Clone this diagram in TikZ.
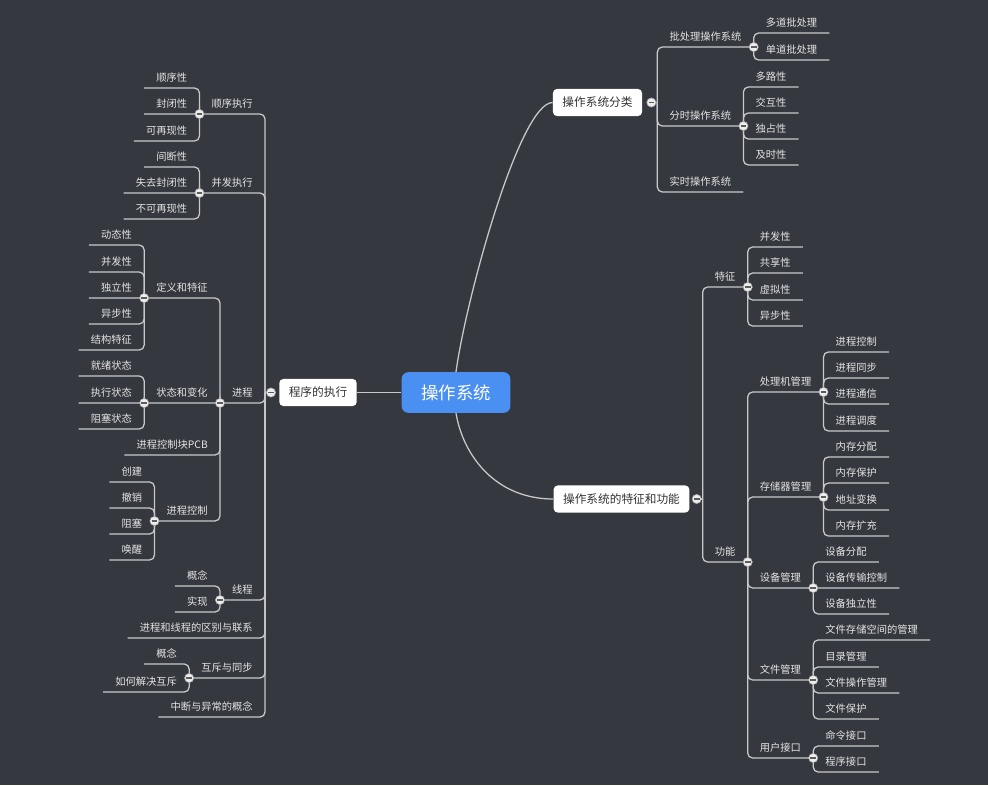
\documentclass[tikz,border=0pt]{standalone}
\usepackage{fontspec}
\setmainfont{Noto Sans CJK SC}

\definecolor{bgdark}{HTML}{36383F}
\definecolor{linegray}{HTML}{C9C9CC}
\definecolor{txtlight}{HTML}{E4E4E4}
\definecolor{rootblue}{HTML}{4A8FF2}
\definecolor{boxtxt}{HTML}{333333}
\definecolor{foldfill}{HTML}{EDEDED}

\newcommand\leaffont{\fontsize{7.3pt}{8.5pt}\selectfont}
\newcommand\topicfont{\fontsize{8.3pt}{10pt}\selectfont}
\newcommand\rootfont{\fontsize{12.4pt}{14pt}\selectfont}

\tikzset{
    branch/.style={draw=linegray, line width=0.9pt, rounded corners=3.5pt},
    rleaf/.style={anchor=south west, text=txtlight, font=\leaffont, inner xsep=8.5pt, inner ysep=2.8pt, text height=6.4pt, text depth=1.5pt},
    lleaf/.style={rleaf, anchor=south east},
    topic/.style={fill=white, rounded corners=3pt, text=boxtxt, font=\topicfont, inner xsep=6.8pt, minimum height=0.68cm},
    root/.style={fill=rootblue, rounded corners=5pt, text=white, font=\rootfont, minimum width=2.72cm, minimum height=1.02cm},
    fold/.style={circle, fill=foldfill, draw=gray!70, line width=0.4pt, minimum size=0.23cm, inner sep=0pt,
        path picture={\draw[boxtxt!80, line width=0.8pt] ([xshift=-2pt]path picture bounding box.center) -- ([xshift=2pt]path picture bounding box.center);}}
}

\begin{document}
\begin{tikzpicture}[x=0.025cm, y=-0.025cm]
    \fill[bgdark] (0,0) rectangle (988,785);
    \useasboundingbox (0,0) rectangle (988,785);

    % centre and main topics
    \node[root] (os) at (456,392.5) {操作系统};
    \node[topic] (cls) at (597.5,102.5) {操作系统分类};
    \node[topic] (feat) at (621.5,499) {操作系统的特征和功能};
    \node[topic] (exe) at (318,392.5) {程序的执行};

    \draw[branch] (os.north) .. controls +(10,-73) and +(-33,0) .. (cls.west);
    \draw[branch] (os.south) .. controls +(7,42) and +(-58,0) .. (feat.west);
    \draw[branch] (os.west) -- (exe.east);

    % 操作系统分类
    \path (cls.east) ++(9,0) coordinate (k0) ++(6,0) coordinate (v0);
    \draw[branch] (k0) -- (v0);
    \foreach \t/\y [count=\i] in {批处理操作系统/47, 分时操作系统/126, 实时操作系统/192} {
        \node[rleaf] (a\i) at (v0 |- 0,\y) {\t};
        \draw[branch] (v0) |- (a\i.south east);
        \coordinate (ka\i) at (a\i.south east);
    }
    \foreach \t/\y [count=\i] in {多道批处理/33, 单道批处理/60} {
        \node[rleaf] (aa\i) at (ka1 |- 0,\y) {\t};
        \draw[branch] (ka1) |- (aa\i.south east);
    }
    \foreach \t/\y [count=\i] in {多路性/87, 交互性/113, 独占性/139, 及时性/165} {
        \node[rleaf] (ab\i) at (ka2 |- 0,\y) {\t};
        \draw[branch] (ka2) |- (ab\i.south east);
    }

    % 操作系统的特征和功能
    \path (feat.east) ++(7,0) coordinate (kf) ++(6,0) coordinate (vf);
    \draw[branch] (kf) -- (vf);
    \foreach \t/\y [count=\i] in {特征/287, 功能/562} {
        \node[rleaf] (b\i) at (vf |- 0,\y) {\t};
        \draw[branch] (vf) |- (b\i.south east);
        \coordinate (kb\i) at (b\i.south east);
    }
    \foreach \t/\y [count=\i] in {并发性/247, 共享性/273, 虚拟性/300, 异步性/326} {
        \node[rleaf] (ba\i) at (kb1 |- 0,\y) {\t};
        \draw[branch] (kb1) |- (ba\i.south east);
    }
    \foreach \t/\y [count=\i] in {处理机管理/392, 存储器管理/497, 设备管理/588, 文件管理/680, 用户接口/758} {
        \node[rleaf] (c\i) at (kb2 |- 0,\y) {\t};
        \draw[branch] (kb2) |- (c\i.south east);
        \coordinate (kc\i) at (c\i.south east);
    }
    \foreach \t/\y [count=\i] in {进程控制/352, 进程同步/378, 进程通信/404, 进程调度/431} {
        \node[rleaf] (ca\i) at (kc1 |- 0,\y) {\t};
        \draw[branch] (kc1) |- (ca\i.south east);
    }
    \foreach \t/\y [count=\i] in {内存分配/457, 内存保护/483, 地址变换/510, 内存扩充/536} {
        \node[rleaf] (cb\i) at (kc2 |- 0,\y) {\t};
        \draw[branch] (kc2) |- (cb\i.south east);
    }
    \foreach \t/\y [count=\i] in {设备分配/562, 设备传输控制/588, 设备独立性/614} {
        \node[rleaf] (cc\i) at (kc3 |- 0,\y) {\t};
        \draw[branch] (kc3) |- (cc\i.south east);
    }
    \foreach \t/\y [count=\i] in {文件存储空间的管理/640, 目录管理/667, 文件操作管理/693, 文件保护/719} {
        \node[rleaf] (cd\i) at (kc4 |- 0,\y) {\t};
        \draw[branch] (kc4) |- (cd\i.south east);
    }
    \foreach \t/\y [count=\i] in {命令接口/746, 程序接口/772} {
        \node[rleaf] (ce\i) at (kc5 |- 0,\y) {\t};
        \draw[branch] (kc5) |- (ce\i.south east);
    }

    % 程序的执行
    \path (exe.west) ++(-8,0) coordinate (ke) ++(-6,0) coordinate (ve);
    \draw[branch] (ke) -- (ve);
    \foreach \t/\y [count=\i] in {顺序执行/114, 并发执行/193, 进程/403, 线程/600, 进程和线程的区别与联系/638, 互斥与同步/678, 中断与异常的概念/717} {
        \node[lleaf] (d\i) at (ve |- 0,\y) {\t};
        \draw[branch] (ve) |- (d\i.south west);
        \coordinate (kd\i) at (d\i.south west);
    }
    \foreach \t/\y [count=\i] in {顺序性/88, 封闭性/114, 可再现性/141} {
        \node[lleaf] (da\i) at (kd1 |- 0,\y) {\t};
        \draw[branch] (kd1) |- (da\i.south west);
    }
    \foreach \t/\y [count=\i] in {间断性/167, 失去封闭性/193, 不可再现性/219} {
        \node[lleaf] (db\i) at (kd2 |- 0,\y) {\t};
        \draw[branch] (kd2) |- (db\i.south west);
    }
    \foreach \t/\y [count=\i] in {定义和特征/298, 状态和变化/403, 进程控制块PCB/455, 进程控制/521} {
        \node[lleaf] (e\i) at (kd3 |- 0,\y) {\t};
        \draw[branch] (kd3) |- (e\i.south west);
        \coordinate (ke\i) at (e\i.south west);
    }
    \foreach \t/\y [count=\i] in {动态性/245, 并发性/272, 独立性/298, 异步性/324, 结构特征/350} {
        \node[lleaf] (ea\i) at (ke1 |- 0,\y) {\t};
        \draw[branch] (ke1) |- (ea\i.south west);
    }
    \foreach \t/\y [count=\i] in {就绪状态/376, 执行状态/403, 阻塞状态/429} {
        \node[lleaf] (eb\i) at (ke2 |- 0,\y) {\t};
        \draw[branch] (ke2) |- (eb\i.south west);
    }
    \foreach \t/\y [count=\i] in {创建/482, 撤销/508, 阻塞/534, 唤醒/560} {
        \node[lleaf] (ec\i) at (ke4 |- 0,\y) {\t};
        \draw[branch] (ke4) |- (ec\i.south west);
    }
    \foreach \t/\y [count=\i] in {概念/586, 实现/612} {
        \node[lleaf] (dc\i) at (kd4 |- 0,\y) {\t};
        \draw[branch] (kd4) |- (dc\i.south west);
    }
    \foreach \t/\y [count=\i] in {概念/664, 如何解决互斥/692} {
        \node[lleaf] (dd\i) at (kd6 |- 0,\y) {\t};
        \draw[branch] (kd6) |- (dd\i.south west);
    }

    % fold buttons on top
    \foreach \k in {k0,ka1,ka2,kf,kb1,kb2,kc1,kc2,kc3,kc4,kc5,ke,kd1,kd2,kd3,kd4,kd6,ke1,ke2,ke4}
        \node[fold] (f\k) at (\k) {};
\end{tikzpicture}
\end{document}
